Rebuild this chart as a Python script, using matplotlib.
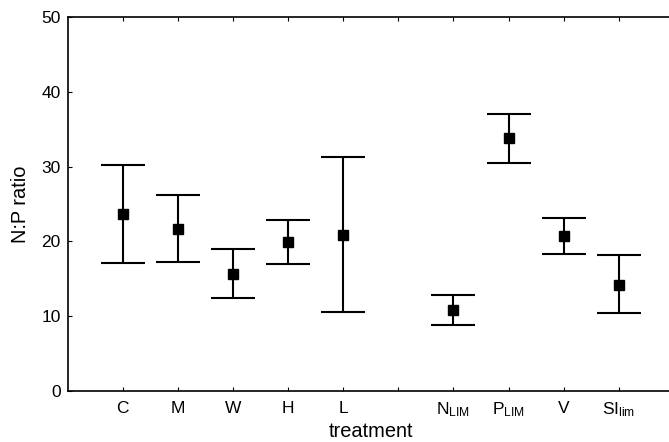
import matplotlib
matplotlib.use("Agg")
import matplotlib.pyplot as plt
import numpy as np

plt.rcParams['font.family'] = ['Liberation Sans', 'DejaVu Sans']
plt.rcParams['mathtext.fontset'] = 'custom'
plt.rcParams['mathtext.rm'] = 'Liberation Sans'
plt.rcParams['mathtext.it'] = 'Liberation Sans'

# treatments and positions (slot 6 left empty)
labels = ['C', 'M', 'W', 'H', 'L',
          r'N$_{\mathrm{LIM}}$', r'P$_{\mathrm{LIM}}$', 'V', r'SI$_{\mathrm{lim}}$']
pos = [1, 2, 3, 4, 5, 7, 8, 9, 10]
mean = [23.6, 21.7, 15.7, 19.9, 20.9, 10.8, 33.8, 20.7, 14.2]
upper = [30.2, 26.2, 19.0, 22.8, 31.3, 12.9, 37.0, 23.1, 18.2]
lower = [17.1, 17.3, 12.5, 17.0, 10.5, 8.8, 30.5, 18.3, 10.4]

mean = np.array(mean)
err = [mean - np.array(lower), np.array(upper) - mean]

fig = plt.figure(figsize=(6.69, 4.42), dpi=100)
ax = fig.add_axes([0.1012, 0.1154, 0.906, 0.846])

ax.errorbar(pos, mean, yerr=err, fmt='s', color='black', ms=7,
            elinewidth=1.5, capsize=16, capthick=1.5)

ax.set_xlim(0, 11)
ax.set_ylim(0, 50)
ax.set_xticks(range(1, 11))
ax.set_xticklabels(labels[:5] + [''] + labels[5:])
ax.set_yticks([0, 10, 20, 30, 40, 50])
ax.tick_params(direction='in', length=3, top=True, labelsize=12.5)
ax.tick_params(axis='x', pad=7)
ax.tick_params(axis='y', pad=5)
ax.spines['right'].set_visible(False)
for s in ['left', 'bottom', 'top']:
    ax.spines[s].set_linewidth(1.2)

ax.set_xlabel('treatment', fontsize=14.4, labelpad=2)
ax.set_ylabel('N:P ratio', fontsize=14.4, labelpad=8)

fig.savefig('out.png', dpi=100)
